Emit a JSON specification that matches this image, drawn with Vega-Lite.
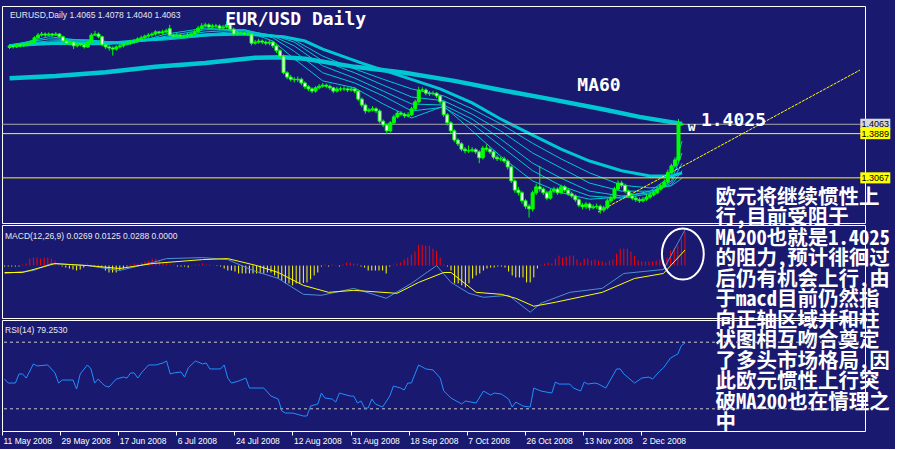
{
"$schema":"https://vega.github.io/schema/vega-lite/v6.json",
"background":"#191970",
"padding":{"left":0,"top":5,"right":4,"bottom":4},
"bounds":"flush",
"spacing":2,
"config":{"view":{"stroke":"#ffffff","strokeWidth":1}},
"resolve":{"scale":{"x":"independent","y":"independent","color":"independent","fill":"independent"}},
"datasets":{
"candles":[
{"i":0,"o":1.549,"h":1.555,"l":1.546,"c":1.552},{"i":1,"o":1.552,"h":1.554,"l":1.547,"c":1.55},{"i":2,"o":1.55,"h":1.557,"l":1.548,"c":1.554},{"i":3,"o":1.554,"h":1.556,"l":1.549,"c":1.552},{"i":4,"o":1.552,"h":1.558,"l":1.55,"c":1.554},{"i":5,"o":1.554,"h":1.56,"l":1.551,"c":1.557},{"i":6,"o":1.557,"h":1.563,"l":1.555,"c":1.559},{"i":7,"o":1.559,"h":1.57,"l":1.557,"c":1.567},{"i":8,"o":1.567,"h":1.576,"l":1.565,"c":1.572},{"i":9,"o":1.572,"h":1.578,"l":1.569,"c":1.574},
{"i":10,"o":1.574,"h":1.577,"l":1.568,"c":1.572},{"i":11,"o":1.572,"h":1.577,"l":1.57,"c":1.574},{"i":12,"o":1.574,"h":1.576,"l":1.569,"c":1.572},{"i":13,"o":1.572,"h":1.578,"l":1.57,"c":1.574},{"i":14,"o":1.574,"h":1.576,"l":1.566,"c":1.569},{"i":15,"o":1.569,"h":1.571,"l":1.558,"c":1.561},{"i":16,"o":1.561,"h":1.564,"l":1.554,"c":1.557},{"i":17,"o":1.557,"h":1.562,"l":1.553,"c":1.559},{"i":18,"o":1.559,"h":1.561,"l":1.546,"c":1.552},{"i":19,"o":1.552,"h":1.559,"l":1.549,"c":1.556},
{"i":20,"o":1.556,"h":1.558,"l":1.551,"c":1.554},{"i":21,"o":1.554,"h":1.557,"l":1.547,"c":1.55},{"i":22,"o":1.55,"h":1.562,"l":1.548,"c":1.559},{"i":23,"o":1.559,"h":1.576,"l":1.557,"c":1.572},{"i":24,"o":1.572,"h":1.58,"l":1.57,"c":1.574},{"i":25,"o":1.574,"h":1.577,"l":1.566,"c":1.569},{"i":26,"o":1.569,"h":1.571,"l":1.551,"c":1.554},{"i":27,"o":1.554,"h":1.557,"l":1.546,"c":1.55},{"i":28,"o":1.55,"h":1.553,"l":1.543,"c":1.548},{"i":29,"o":1.548,"h":1.551,"l":1.534,"c":1.546},
{"i":30,"o":1.546,"h":1.553,"l":1.543,"c":1.55},{"i":31,"o":1.55,"h":1.556,"l":1.547,"c":1.552},{"i":32,"o":1.552,"h":1.559,"l":1.549,"c":1.556},{"i":33,"o":1.556,"h":1.561,"l":1.553,"c":1.557},{"i":34,"o":1.557,"h":1.563,"l":1.554,"c":1.559},{"i":35,"o":1.559,"h":1.565,"l":1.556,"c":1.561},{"i":36,"o":1.561,"h":1.568,"l":1.558,"c":1.565},{"i":37,"o":1.565,"h":1.571,"l":1.562,"c":1.567},{"i":38,"o":1.567,"h":1.573,"l":1.564,"c":1.57},{"i":39,"o":1.57,"h":1.576,"l":1.567,"c":1.572},
{"i":40,"o":1.572,"h":1.577,"l":1.569,"c":1.574},{"i":41,"o":1.574,"h":1.581,"l":1.571,"c":1.578},{"i":42,"o":1.578,"h":1.58,"l":1.573,"c":1.576},{"i":43,"o":1.576,"h":1.582,"l":1.573,"c":1.578},{"i":44,"o":1.578,"h":1.584,"l":1.575,"c":1.58},{"i":45,"o":1.584,"h":1.591,"l":1.569,"c":1.572},{"i":46,"o":1.572,"h":1.575,"l":1.566,"c":1.57},{"i":47,"o":1.57,"h":1.576,"l":1.567,"c":1.572},{"i":48,"o":1.572,"h":1.574,"l":1.566,"c":1.57},{"i":49,"o":1.57,"h":1.573,"l":1.566,"c":1.57},
{"i":50,"o":1.57,"h":1.576,"l":1.567,"c":1.572},{"i":51,"o":1.572,"h":1.578,"l":1.569,"c":1.574},{"i":52,"o":1.574,"h":1.582,"l":1.571,"c":1.578},{"i":53,"o":1.578,"h":1.589,"l":1.575,"c":1.585},{"i":54,"o":1.585,"h":1.594,"l":1.582,"c":1.589},{"i":55,"o":1.589,"h":1.595,"l":1.586,"c":1.591},{"i":56,"o":1.591,"h":1.594,"l":1.583,"c":1.587},{"i":57,"o":1.587,"h":1.593,"l":1.584,"c":1.589},{"i":58,"o":1.589,"h":1.593,"l":1.585,"c":1.589},{"i":59,"o":1.589,"h":1.592,"l":1.581,"c":1.585},
{"i":60,"o":1.585,"h":1.591,"l":1.582,"c":1.587},{"i":61,"o":1.587,"h":1.598,"l":1.584,"c":1.591},{"i":62,"o":1.591,"h":1.594,"l":1.579,"c":1.583},{"i":63,"o":1.583,"h":1.586,"l":1.57,"c":1.574},{"i":64,"o":1.574,"h":1.58,"l":1.571,"c":1.576},{"i":65,"o":1.576,"h":1.579,"l":1.572,"c":1.576},{"i":66,"o":1.576,"h":1.578,"l":1.571,"c":1.574},{"i":67,"o":1.574,"h":1.578,"l":1.57,"c":1.574},{"i":68,"o":1.574,"h":1.577,"l":1.553,"c":1.557},{"i":69,"o":1.557,"h":1.563,"l":1.554,"c":1.559},
{"i":70,"o":1.559,"h":1.565,"l":1.556,"c":1.561},{"i":71,"o":1.561,"h":1.564,"l":1.555,"c":1.559},{"i":72,"o":1.559,"h":1.562,"l":1.553,"c":1.557},{"i":73,"o":1.557,"h":1.563,"l":1.553,"c":1.559},{"i":74,"o":1.559,"h":1.561,"l":1.548,"c":1.552},{"i":75,"o":1.552,"h":1.555,"l":1.539,"c":1.543},{"i":76,"o":1.543,"h":1.546,"l":1.529,"c":1.533},{"i":77,"o":1.533,"h":1.536,"l":1.499,"c":1.502},{"i":78,"o":1.502,"h":1.505,"l":1.49,"c":1.494},{"i":79,"o":1.494,"h":1.498,"l":1.486,"c":1.49},
{"i":80,"o":1.49,"h":1.494,"l":1.484,"c":1.489},{"i":81,"o":1.489,"h":1.495,"l":1.485,"c":1.49},{"i":82,"o":1.49,"h":1.493,"l":1.479,"c":1.483},{"i":83,"o":1.483,"h":1.486,"l":1.472,"c":1.476},{"i":84,"o":1.476,"h":1.479,"l":1.468,"c":1.472},{"i":85,"o":1.472,"h":1.475,"l":1.464,"c":1.468},{"i":86,"o":1.468,"h":1.477,"l":1.465,"c":1.474},{"i":87,"o":1.474,"h":1.481,"l":1.471,"c":1.477},{"i":88,"o":1.477,"h":1.483,"l":1.474,"c":1.479},{"i":89,"o":1.479,"h":1.482,"l":1.473,"c":1.477},
{"i":90,"o":1.477,"h":1.48,"l":1.47,"c":1.474},{"i":91,"o":1.474,"h":1.476,"l":1.464,"c":1.468},{"i":92,"o":1.468,"h":1.476,"l":1.465,"c":1.472},{"i":93,"o":1.472,"h":1.476,"l":1.468,"c":1.472},{"i":94,"o":1.472,"h":1.477,"l":1.468,"c":1.472},{"i":95,"o":1.472,"h":1.475,"l":1.466,"c":1.47},{"i":96,"o":1.47,"h":1.476,"l":1.467,"c":1.472},{"i":97,"o":1.472,"h":1.475,"l":1.464,"c":1.468},{"i":98,"o":1.468,"h":1.47,"l":1.449,"c":1.453},{"i":99,"o":1.453,"h":1.456,"l":1.438,"c":1.442},
{"i":100,"o":1.442,"h":1.445,"l":1.426,"c":1.431},{"i":101,"o":1.431,"h":1.437,"l":1.428,"c":1.433},{"i":102,"o":1.433,"h":1.44,"l":1.43,"c":1.435},{"i":103,"o":1.435,"h":1.438,"l":1.427,"c":1.431},{"i":104,"o":1.431,"h":1.434,"l":1.408,"c":1.412},{"i":105,"o":1.412,"h":1.415,"l":1.401,"c":1.405},{"i":106,"o":1.405,"h":1.408,"l":1.388,"c":1.394},{"i":107,"o":1.394,"h":1.412,"l":1.391,"c":1.409},{"i":108,"o":1.409,"h":1.424,"l":1.406,"c":1.42},{"i":109,"o":1.42,"h":1.431,"l":1.417,"c":1.427},
{"i":110,"o":1.427,"h":1.431,"l":1.421,"c":1.425},{"i":111,"o":1.425,"h":1.428,"l":1.418,"c":1.422},{"i":112,"o":1.422,"h":1.429,"l":1.419,"c":1.424},{"i":113,"o":1.424,"h":1.439,"l":1.421,"c":1.435},{"i":114,"o":1.435,"h":1.452,"l":1.432,"c":1.448},{"i":115,"o":1.448,"h":1.476,"l":1.445,"c":1.47},{"i":116,"o":1.47,"h":1.475,"l":1.466,"c":1.47},{"i":117,"o":1.47,"h":1.473,"l":1.46,"c":1.464},{"i":118,"o":1.464,"h":1.468,"l":1.459,"c":1.463},{"i":119,"o":1.463,"h":1.468,"l":1.46,"c":1.464},
{"i":120,"o":1.464,"h":1.466,"l":1.455,"c":1.459},{"i":121,"o":1.459,"h":1.461,"l":1.444,"c":1.448},{"i":122,"o":1.448,"h":1.45,"l":1.42,"c":1.424},{"i":123,"o":1.424,"h":1.427,"l":1.404,"c":1.409},{"i":124,"o":1.409,"h":1.412,"l":1.389,"c":1.394},{"i":125,"o":1.394,"h":1.397,"l":1.373,"c":1.377},{"i":126,"o":1.377,"h":1.38,"l":1.366,"c":1.37},{"i":127,"o":1.37,"h":1.373,"l":1.356,"c":1.36},{"i":128,"o":1.36,"h":1.364,"l":1.352,"c":1.357},{"i":129,"o":1.357,"h":1.367,"l":1.353,"c":1.357},
{"i":130,"o":1.357,"h":1.364,"l":1.354,"c":1.359},{"i":131,"o":1.359,"h":1.362,"l":1.351,"c":1.355},{"i":132,"o":1.355,"h":1.358,"l":1.334,"c":1.344},{"i":133,"o":1.344,"h":1.366,"l":1.341,"c":1.362},{"i":134,"o":1.362,"h":1.369,"l":1.356,"c":1.36},{"i":135,"o":1.36,"h":1.364,"l":1.351,"c":1.355},{"i":136,"o":1.355,"h":1.358,"l":1.341,"c":1.345},{"i":137,"o":1.345,"h":1.349,"l":1.338,"c":1.342},{"i":138,"o":1.342,"h":1.346,"l":1.338,"c":1.342},{"i":139,"o":1.342,"h":1.346,"l":1.334,"c":1.338},
{"i":140,"o":1.338,"h":1.341,"l":1.322,"c":1.327},{"i":141,"o":1.327,"h":1.33,"l":1.297,"c":1.301},{"i":142,"o":1.301,"h":1.304,"l":1.279,"c":1.284},{"i":143,"o":1.284,"h":1.29,"l":1.274,"c":1.279},{"i":144,"o":1.279,"h":1.282,"l":1.259,"c":1.264},{"i":145,"o":1.264,"h":1.267,"l":1.249,"c":1.254},{"i":146,"o":1.254,"h":1.258,"l":1.233,"c":1.249},{"i":147,"o":1.249,"h":1.283,"l":1.244,"c":1.279},{"i":148,"o":1.279,"h":1.295,"l":1.275,"c":1.29},{"i":149,"o":1.29,"h":1.329,"l":1.281,"c":1.286},
{"i":150,"o":1.286,"h":1.289,"l":1.275,"c":1.279},{"i":151,"o":1.279,"h":1.283,"l":1.265,"c":1.269},{"i":152,"o":1.269,"h":1.286,"l":1.266,"c":1.282},{"i":153,"o":1.282,"h":1.29,"l":1.278,"c":1.286},{"i":154,"o":1.286,"h":1.289,"l":1.275,"c":1.279},{"i":155,"o":1.279,"h":1.294,"l":1.276,"c":1.29},{"i":156,"o":1.29,"h":1.293,"l":1.28,"c":1.284},{"i":157,"o":1.284,"h":1.288,"l":1.273,"c":1.277},{"i":158,"o":1.277,"h":1.281,"l":1.269,"c":1.273},{"i":159,"o":1.273,"h":1.276,"l":1.262,"c":1.266},
{"i":160,"o":1.266,"h":1.269,"l":1.252,"c":1.256},{"i":161,"o":1.256,"h":1.26,"l":1.248,"c":1.253},{"i":162,"o":1.253,"h":1.262,"l":1.249,"c":1.258},{"i":163,"o":1.258,"h":1.261,"l":1.246,"c":1.251},{"i":164,"o":1.251,"h":1.257,"l":1.248,"c":1.253},{"i":165,"o":1.253,"h":1.259,"l":1.249,"c":1.254},{"i":166,"o":1.254,"h":1.257,"l":1.24,"c":1.247},{"i":167,"o":1.247,"h":1.255,"l":1.243,"c":1.251},{"i":168,"o":1.251,"h":1.268,"l":1.248,"c":1.264},{"i":169,"o":1.264,"h":1.274,"l":1.26,"c":1.269},
{"i":170,"o":1.269,"h":1.29,"l":1.266,"c":1.286},{"i":171,"o":1.286,"h":1.302,"l":1.283,"c":1.297},{"i":172,"o":1.297,"h":1.301,"l":1.289,"c":1.293},{"i":173,"o":1.293,"h":1.296,"l":1.278,"c":1.282},{"i":174,"o":1.282,"h":1.285,"l":1.269,"c":1.273},{"i":175,"o":1.273,"h":1.277,"l":1.265,"c":1.269},{"i":176,"o":1.269,"h":1.273,"l":1.262,"c":1.266},{"i":177,"o":1.266,"h":1.27,"l":1.26,"c":1.264},{"i":178,"o":1.264,"h":1.271,"l":1.261,"c":1.267},{"i":179,"o":1.267,"h":1.276,"l":1.264,"c":1.271},
{"i":180,"o":1.271,"h":1.279,"l":1.268,"c":1.275},{"i":181,"o":1.275,"h":1.283,"l":1.272,"c":1.279},{"i":182,"o":1.279,"h":1.29,"l":1.276,"c":1.286},{"i":183,"o":1.286,"h":1.296,"l":1.283,"c":1.292},{"i":184,"o":1.292,"h":1.304,"l":1.289,"c":1.299},{"i":185,"o":1.299,"h":1.322,"l":1.296,"c":1.317},{"i":186,"o":1.317,"h":1.333,"l":1.314,"c":1.329},{"i":187,"o":1.329,"h":1.345,"l":1.326,"c":1.34},{"i":188,"o":1.34,"h":1.416,"l":1.337,"c":1.4065},{"i":189,"o":1.4065,"h":1.4078,"l":1.404,"c":1.4063}
],
"ma":[
{"line":"MA200","i":0,"p":1.492},{"line":"MA200","i":13,"p":1.496},{"line":"MA200","i":27,"p":1.503},{"line":"MA200","i":41,"p":1.513},{"line":"MA200","i":55,"p":1.52},{"line":"MA200","i":69,"p":1.53},{"line":"MA200","i":77,"p":1.531},{"line":"MA200","i":83,"p":1.528},{"line":"MA200","i":97,"p":1.513},{"line":"MA200","i":111,"p":1.502},{"line":"MA200","i":125,"p":1.487},{"line":"MA200","i":138,"p":1.47},{"line":"MA200","i":152,"p":1.453},{"line":"MA200","i":166,"p":1.435},{"line":"MA200","i":177,"p":1.42},{"line":"MA200","i":189,"p":1.407},
{"line":"MA60","i":0,"p":1.552},{"line":"MA60","i":13,"p":1.557},{"line":"MA60","i":27,"p":1.556},{"line":"MA60","i":41,"p":1.565},{"line":"MA60","i":55,"p":1.572},{"line":"MA60","i":66,"p":1.574},{"line":"MA60","i":77,"p":1.569},{"line":"MA60","i":83,"p":1.561},{"line":"MA60","i":88,"p":1.546},{"line":"MA60","i":99,"p":1.52},{"line":"MA60","i":111,"p":1.494},{"line":"MA60","i":121,"p":1.472},{"line":"MA60","i":130,"p":1.446},{"line":"MA60","i":138,"p":1.416},{"line":"MA60","i":147,"p":1.386},{"line":"MA60","i":155,"p":1.36},{"line":"MA60","i":163,"p":1.338},{"line":"MA60","i":172,"p":1.32},{"line":"MA60","i":180,"p":1.31},{"line":"MA60","i":186,"p":1.31},{"line":"MA60","i":189,"p":1.316},
{"line":"T1","i":0,"p":1.552},{"line":"T1","i":11,"p":1.569},{"line":"T1","i":22,"p":1.561},{"line":"T1","i":33,"p":1.554},{"line":"T1","i":44,"p":1.574},{"line":"T1","i":55,"p":1.585},{"line":"T1","i":66,"p":1.58},{"line":"T1","i":74,"p":1.561},{"line":"T1","i":80,"p":1.528},{"line":"T1","i":88,"p":1.487},{"line":"T1","i":97,"p":1.474},{"line":"T1","i":105,"p":1.444},{"line":"T1","i":113,"p":1.418},{"line":"T1","i":122,"p":1.44},{"line":"T1","i":130,"p":1.394},{"line":"T1","i":138,"p":1.347},{"line":"T1","i":147,"p":1.301},{"line":"T1","i":155,"p":1.279},{"line":"T1","i":163,"p":1.267},{"line":"T1","i":172,"p":1.271},{"line":"T1","i":180,"p":1.282},{"line":"T1","i":186,"p":1.31},{"line":"T1","i":189,"p":1.375},
{"line":"T2","i":0,"p":1.554},{"line":"T2","i":11,"p":1.565},{"line":"T2","i":22,"p":1.563},{"line":"T2","i":33,"p":1.556},{"line":"T2","i":44,"p":1.57},{"line":"T2","i":55,"p":1.582},{"line":"T2","i":66,"p":1.582},{"line":"T2","i":74,"p":1.567},{"line":"T2","i":80,"p":1.542},{"line":"T2","i":88,"p":1.502},{"line":"T2","i":97,"p":1.483},{"line":"T2","i":105,"p":1.459},{"line":"T2","i":113,"p":1.431},{"line":"T2","i":122,"p":1.438},{"line":"T2","i":130,"p":1.407},{"line":"T2","i":138,"p":1.366},{"line":"T2","i":147,"p":1.32},{"line":"T2","i":155,"p":1.292},{"line":"T2","i":163,"p":1.273},{"line":"T2","i":172,"p":1.269},{"line":"T2","i":180,"p":1.277},{"line":"T2","i":186,"p":1.301},{"line":"T2","i":189,"p":1.353},
{"line":"T3","i":0,"p":1.554},{"line":"T3","i":11,"p":1.561},{"line":"T3","i":22,"p":1.563},{"line":"T3","i":33,"p":1.557},{"line":"T3","i":44,"p":1.567},{"line":"T3","i":55,"p":1.578},{"line":"T3","i":66,"p":1.582},{"line":"T3","i":74,"p":1.57},{"line":"T3","i":80,"p":1.552},{"line":"T3","i":88,"p":1.515},{"line":"T3","i":97,"p":1.492},{"line":"T3","i":105,"p":1.468},{"line":"T3","i":113,"p":1.444},{"line":"T3","i":122,"p":1.442},{"line":"T3","i":130,"p":1.416},{"line":"T3","i":138,"p":1.379},{"line":"T3","i":147,"p":1.334},{"line":"T3","i":155,"p":1.306},{"line":"T3","i":163,"p":1.282},{"line":"T3","i":172,"p":1.273},{"line":"T3","i":180,"p":1.279},{"line":"T3","i":186,"p":1.297},{"line":"T3","i":189,"p":1.334},
{"line":"T4","i":0,"p":1.554},{"line":"T4","i":11,"p":1.559},{"line":"T4","i":22,"p":1.561},{"line":"T4","i":33,"p":1.559},{"line":"T4","i":44,"p":1.565},{"line":"T4","i":55,"p":1.574},{"line":"T4","i":66,"p":1.58},{"line":"T4","i":74,"p":1.572},{"line":"T4","i":80,"p":1.559},{"line":"T4","i":88,"p":1.524},{"line":"T4","i":97,"p":1.502},{"line":"T4","i":105,"p":1.479},{"line":"T4","i":113,"p":1.457},{"line":"T4","i":122,"p":1.45},{"line":"T4","i":130,"p":1.425},{"line":"T4","i":138,"p":1.394},{"line":"T4","i":147,"p":1.353},{"line":"T4","i":155,"p":1.325},{"line":"T4","i":163,"p":1.297},{"line":"T4","i":172,"p":1.282},{"line":"T4","i":180,"p":1.282},{"line":"T4","i":186,"p":1.293},{"line":"T4","i":189,"p":1.32},
{"line":"T5","i":0,"p":1.554},{"line":"T5","i":11,"p":1.557},{"line":"T5","i":22,"p":1.559},{"line":"T5","i":33,"p":1.559},{"line":"T5","i":44,"p":1.563},{"line":"T5","i":55,"p":1.57},{"line":"T5","i":66,"p":1.578},{"line":"T5","i":74,"p":1.572},{"line":"T5","i":80,"p":1.563},{"line":"T5","i":88,"p":1.533},{"line":"T5","i":97,"p":1.509},{"line":"T5","i":105,"p":1.49},{"line":"T5","i":113,"p":1.472},{"line":"T5","i":122,"p":1.459},{"line":"T5","i":130,"p":1.435},{"line":"T5","i":138,"p":1.407},{"line":"T5","i":147,"p":1.371},{"line":"T5","i":155,"p":1.342},{"line":"T5","i":163,"p":1.316},{"line":"T5","i":172,"p":1.293},{"line":"T5","i":180,"p":1.288},{"line":"T5","i":186,"p":1.292},{"line":"T5","i":189,"p":1.306}
],
"levels":[{"p":1.4063,"kind":"bid"},{"p":1.3889,"kind":"level"},{"p":1.3067,"kind":"level"}],
"trend":[{"i":165.4,"p":1.2432},{"i":239,"p":1.5071}],
"hist":[
{"i":0,"h":-0.0008},{"i":1,"h":-0.0008},{"i":2,"h":-0.0008},{"i":3,"h":-0.0008},{"i":4,"h":-0.0008},{"i":5,"h":0.0008},{"i":6,"h":0.0016},{"i":7,"h":0.0056},{"i":8,"h":0.0064},{"i":9,"h":0.0064},{"i":10,"h":0.0056},{"i":11,"h":0.0064},{"i":12,"h":0.0064},{"i":13,"h":0.0056},{"i":14,"h":0.004},{"i":15,"h":0.0008},{"i":16,"h":-0.0008},{"i":17,"h":-0.0016},{"i":18,"h":-0.0024},{"i":19,"h":-0.0032},
{"i":20,"h":-0.004},{"i":21,"h":-0.0032},{"i":22,"h":-0.0016},{"i":23,"h":0.0016},{"i":24,"h":0.0008},{"i":25,"h":-0.0008},{"i":26,"h":-0.0008},{"i":27,"h":-0.0016},{"i":28,"h":-0.004},{"i":29,"h":-0.0056},{"i":30,"h":-0.0056},{"i":31,"h":-0.0056},{"i":32,"h":-0.004},{"i":33,"h":-0.0024},{"i":34,"h":-0.0008},{"i":35,"h":0.0008},{"i":36,"h":0.0016},{"i":37,"h":0.0016},{"i":38,"h":0.0024},{"i":39,"h":0.0032},
{"i":40,"h":0.004},{"i":41,"h":0.0056},{"i":42,"h":0.0056},{"i":43,"h":0.004},{"i":44,"h":0.0024},{"i":45,"h":0.0016},{"i":46,"h":0.0008},{"i":47,"h":0.0008},{"i":48,"h":-0.0008},{"i":49,"h":-0.0008},{"i":50,"h":-0.0008},{"i":51,"h":-0.0016},{"i":52,"h":0.0004},{"i":53,"h":0.0008},{"i":54,"h":0.0008},{"i":55,"h":0.0016},{"i":56,"h":0.0008},{"i":57,"h":0.0008},{"i":58,"h":0.0004},{"i":59,"h":-0.0004},
{"i":60,"h":-0.0008},{"i":61,"h":-0.0024},{"i":62,"h":-0.004},{"i":63,"h":-0.004},{"i":64,"h":-0.0048},{"i":65,"h":-0.0064},{"i":66,"h":-0.0064},{"i":67,"h":-0.0064},{"i":68,"h":-0.0064},{"i":69,"h":-0.0064},{"i":70,"h":-0.0064},{"i":71,"h":-0.0064},{"i":72,"h":-0.0064},{"i":73,"h":-0.0056},{"i":74,"h":-0.0056},{"i":75,"h":-0.008},{"i":76,"h":-0.0104},{"i":77,"h":-0.012},{"i":78,"h":-0.0144},{"i":79,"h":-0.0144},
{"i":80,"h":-0.016},{"i":81,"h":-0.0144},{"i":82,"h":-0.0144},{"i":83,"h":-0.014},{"i":84,"h":-0.0136},{"i":85,"h":-0.0112},{"i":86,"h":-0.008},{"i":87,"h":-0.0056},{"i":88,"h":-0.0008},{"i":89,"h":0.0008},{"i":90,"h":-0.0008},{"i":91,"h":0.0008},{"i":92,"h":0.0004},{"i":93,"h":-0.0008},{"i":94,"h":0.0008},{"i":95,"h":0.0024},{"i":96,"h":0.0024},{"i":97,"h":0.0016},{"i":98,"h":0.0016},{"i":99,"h":-0.0008},
{"i":100,"h":-0.0016},{"i":101,"h":-0.004},{"i":102,"h":-0.004},{"i":103,"h":-0.004},{"i":104,"h":-0.004},{"i":105,"h":-0.004},{"i":106,"h":-0.0064},{"i":107,"h":-0.0008},{"i":108,"h":0.0008},{"i":109,"h":0.0016},{"i":110,"h":0.0024},{"i":111,"h":0.0048},{"i":112,"h":0.0064},{"i":113,"h":0.0088},{"i":114,"h":0.0112},{"i":115,"h":0.0168},{"i":116,"h":0.0168},{"i":117,"h":0.016},{"i":118,"h":0.016},{"i":119,"h":0.0136},
{"i":120,"h":0.012},{"i":121,"h":0.0064},{"i":122,"h":0.0008},{"i":123,"h":-0.0008},{"i":124,"h":-0.004},{"i":125,"h":-0.0144},{"i":126,"h":-0.0144},{"i":127,"h":-0.016},{"i":128,"h":-0.0176},{"i":129,"h":-0.0144},{"i":130,"h":-0.0104},{"i":131,"h":-0.008},{"i":132,"h":-0.0064},{"i":133,"h":-0.004},{"i":134,"h":-0.0024},{"i":135,"h":-0.0016},{"i":136,"h":-0.0016},{"i":137,"h":-0.0008},{"i":138,"h":-0.0008},{"i":139,"h":-0.0016},
{"i":140,"h":-0.0048},{"i":141,"h":-0.008},{"i":142,"h":-0.0096},{"i":143,"h":-0.0096},{"i":144,"h":-0.0096},{"i":145,"h":-0.0136},{"i":146,"h":-0.0136},{"i":147,"h":-0.0096},{"i":148,"h":-0.0024},{"i":149,"h":0.0008},{"i":150,"h":0.0016},{"i":151,"h":0.0024},{"i":152,"h":0.0016},{"i":153,"h":0.0056},{"i":154,"h":0.008},{"i":155,"h":0.0064},{"i":156,"h":0.0072},{"i":157,"h":0.008},{"i":158,"h":0.008},{"i":159,"h":0.0048},
{"i":160,"h":0.0024},{"i":161,"h":0.0056},{"i":162,"h":0.0056},{"i":163,"h":0.004},{"i":164,"h":0.0048},{"i":165,"h":0.004},{"i":166,"h":0.0032},{"i":167,"h":0.0024},{"i":168,"h":0.004},{"i":169,"h":0.0048},{"i":170,"h":0.0096},{"i":171,"h":0.0136},{"i":172,"h":0.0136},{"i":173,"h":0.0136},{"i":174,"h":0.0112},{"i":175,"h":0.008},{"i":176,"h":0.004},{"i":177,"h":0.0032},{"i":178,"h":0.0032},{"i":179,"h":0.0032},
{"i":180,"h":0.0032},{"i":181,"h":0.004},{"i":182,"h":0.0048},{"i":183,"h":0.0048},{"i":184,"h":0.0064},{"i":185,"h":0.012},{"i":186,"h":0.0144},{"i":187,"h":0.016},{"i":188,"h":0.0216},{"i":189,"h":0.0269}
],
"macd":[
{"s":"MACD","i":0,"v":-0.0064},{"s":"MACD","i":8,"v":-0.004},{"s":"MACD","i":13,"v":0.0016},{"s":"MACD","i":23,"v":0},{"s":"MACD","i":32,"v":-0.004},{"s":"MACD","i":41,"v":0.0024},{"s":"MACD","i":45,"v":0.0056},{"s":"MACD","i":55,"v":0.0064},{"s":"MACD","i":62,"v":0.0048},{"s":"MACD","i":69,"v":-0.004},{"s":"MACD","i":76,"v":-0.0104},{"s":"MACD","i":83,"v":-0.0232},{"s":"MACD","i":88,"v":-0.024},{"s":"MACD","i":97,"v":-0.0184},{"s":"MACD","i":106,"v":-0.0264},{"s":"MACD","i":113,"v":-0.0144},{"s":"MACD","i":120,"v":0},{"s":"MACD","i":124,"v":-0.0136},{"s":"MACD","i":129,"v":-0.0224},{"s":"MACD","i":133,"v":-0.0256},{"s":"MACD","i":140,"v":-0.024},{"s":"MACD","i":146,"v":-0.0376},{"s":"MACD","i":149,"v":-0.0304},{"s":"MACD","i":157,"v":-0.0216},{"s":"MACD","i":166,"v":-0.0184},{"s":"MACD","i":172,"v":-0.0064},{"s":"MACD","i":183,"v":-0.0032},{"s":"MACD","i":189,"v":0.0288},
{"s":"Signal","i":0,"v":-0.0056},{"s":"Signal","i":5,"v":-0.0056},{"s":"Signal","i":14,"v":0.0016},{"s":"Signal","i":23,"v":0},{"s":"Signal","i":32,"v":-0.0024},{"s":"Signal","i":41,"v":0.0016},{"s":"Signal","i":55,"v":0.0048},{"s":"Signal","i":62,"v":0.0056},{"s":"Signal","i":70,"v":0},{"s":"Signal","i":76,"v":-0.0056},{"s":"Signal","i":83,"v":-0.016},{"s":"Signal","i":90,"v":-0.0216},{"s":"Signal","i":97,"v":-0.02},{"s":"Signal","i":109,"v":-0.0224},{"s":"Signal","i":115,"v":-0.0136},{"s":"Signal","i":122,"v":-0.0056},{"s":"Signal","i":124,"v":-0.0056},{"s":"Signal","i":131,"v":-0.0216},{"s":"Signal","i":138,"v":-0.0232},{"s":"Signal","i":142,"v":-0.0264},{"s":"Signal","i":147,"v":-0.0328},{"s":"Signal","i":153,"v":-0.0296},{"s":"Signal","i":166,"v":-0.0216},{"s":"Signal","i":175,"v":-0.0104},{"s":"Signal","i":183,"v":-0.0064},{"s":"Signal","i":189,"v":0.0125}
],
"rsi":[
{"i":0,"v":46.8},{"i":1,"v":43.2},{"i":3,"v":43.2},{"i":4,"v":51.4},{"i":5,"v":51.4},{"i":6,"v":47.7},{"i":8,"v":60.4},{"i":9,"v":58.6},{"i":12,"v":59.5},{"i":14,"v":52.3},{"i":15,"v":43.2},{"i":16,"v":45.9},{"i":19,"v":45.9},{"i":20,"v":37.8},{"i":21,"v":51.4},{"i":23,"v":59.5},{"i":24,"v":55.9},{"i":25,"v":43.2},{"i":26,"v":46.8},{"i":27,"v":43.2},{"i":28,"v":40.5},{"i":29,"v":39.6},{"i":31,"v":46.8},{"i":33,"v":48.6},{"i":34,"v":47.7},{"i":35,"v":52.3},{"i":36,"v":52.3},{"i":37,"v":47.7},{"i":38,"v":52.3},{"i":40,"v":59.5},{"i":42,"v":59.5},{"i":44,"v":61.3},{"i":45,"v":63.1},{"i":46,"v":51.4},{"i":47,"v":52.3},{"i":49,"v":53.2},{"i":50,"v":48.6},{"i":51,"v":56.8},{"i":53,"v":63.1},{"i":55,"v":60.4},{"i":56,"v":61.3},{"i":57,"v":55.9},{"i":60,"v":55.9},{"i":61,"v":59.5},{"i":62,"v":47.7},{"i":63,"v":43.2},{"i":65,"v":45},{"i":67,"v":47.7},{"i":68,"v":38.7},{"i":72,"v":38.7},{"i":74,"v":31.5},{"i":76,"v":28.8},{"i":77,"v":18},{"i":78,"v":16.2},{"i":80,"v":16.2},{"i":83,"v":13.5},{"i":84,"v":13.5},{"i":85,"v":22.5},{"i":87,"v":24.3},{"i":88,"v":34.2},{"i":89,"v":29.7},{"i":91,"v":28.8},{"i":92,"v":26.1},{"i":93,"v":34.2},{"i":96,"v":31.5},{"i":97,"v":31.5},{"i":98,"v":25.2},{"i":99,"v":27},{"i":100,"v":20.7},{"i":101,"v":20.7},{"i":102,"v":28.8},{"i":103,"v":24.3},{"i":105,"v":21.6},{"i":107,"v":31.5},{"i":108,"v":40.5},{"i":110,"v":38.7},{"i":111,"v":36.9},{"i":112,"v":43.2},{"i":113,"v":43.2},{"i":114,"v":51.4},{"i":115,"v":59.5},{"i":117,"v":55.9},{"i":119,"v":55},{"i":121,"v":47.7},{"i":122,"v":36},{"i":124,"v":29.7},{"i":127,"v":24.3},{"i":128,"v":27},{"i":131,"v":25.2},{"i":133,"v":36},{"i":135,"v":32.4},{"i":136,"v":34.2},{"i":138,"v":33.3},{"i":140,"v":28.8},{"i":141,"v":21.6},{"i":142,"v":26.1},{"i":144,"v":22.5},{"i":146,"v":21.6},{"i":147,"v":38.7},{"i":149,"v":36},{"i":152,"v":34.2},{"i":153,"v":44.1},{"i":154,"v":42.3},{"i":157,"v":42.3},{"i":158,"v":38.7},{"i":160,"v":36},{"i":161,"v":44.1},{"i":162,"v":42.3},{"i":164,"v":43.2},{"i":165,"v":42.3},{"i":167,"v":38.7},{"i":170,"v":55.9},{"i":171,"v":55.9},{"i":172,"v":51.4},{"i":175,"v":43.2},{"i":177,"v":47.7},{"i":179,"v":48.6},{"i":180,"v":46.8},{"i":182,"v":54.1},{"i":183,"v":56.8},{"i":185,"v":65.8},{"i":187,"v":69.4},{"i":188,"v":77},{"i":189,"v":79.253}
],
"rsilevels":[{"lv":80},{"lv":20}]
},
"vconcat":[
{
"width":863,"height":217,
"layer":[
{"data":{"name":"ma"},"transform":[{"filter":{"field":"line","oneOf":["T1","T2","T3","T4","T5"]}}],
 "mark":{"type":"line","color":"#00c8d2","strokeWidth":1},
 "encoding":{"x":{"field":"i","type":"quantitative","scale":{"domain":[-0.72,239],"nice":false,"zero":false},"axis":null},
 "y":{"field":"p","type":"quantitative","scale":{"domain":[1.2228,1.6261],"nice":false,"zero":false},
  "axis":{"orient":"right","values":[1.5815,1.5215,1.463,1.3445,1.2845,1.226],"format":".4f","title":null,"domain":false,"grid":false,"ticks":true,"tickSize":3,"tickColor":"#ffffff","labelColor":"#ffffff","labelFont":"Liberation Sans","labelFontSize":9,"labelPadding":2,"labelFlush":false}},
 "detail":{"field":"line"}}},
{"data":{"name":"ma"},"transform":[{"filter":{"field":"line","equal":"MA60"}}],
 "mark":{"type":"line","color":"#00c8d2","strokeWidth":3},
 "encoding":{"x":{"field":"i","type":"quantitative","axis":null},"y":{"field":"p","type":"quantitative","axis":null}}},
{"data":{"name":"ma"},"transform":[{"filter":{"field":"line","equal":"MA200"}}],
 "mark":{"type":"line","color":"#00c8d2","strokeWidth":4.5},
 "encoding":{"x":{"field":"i","type":"quantitative","axis":null},"y":{"field":"p","type":"quantitative","axis":null}}},
{"data":{"name":"levels"},"mark":{"type":"rule","strokeWidth":1},
 "encoding":{"y":{"field":"p","type":"quantitative","axis":null},
 "color":{"field":"kind","type":"nominal","scale":{"domain":["bid","level"],"range":["#a8a8a8","#ffff00"]},"legend":null}}},
{"data":{"name":"trend"},"mark":{"type":"line","color":"#ffff00","strokeWidth":1,"strokeDash":[3,1]},
 "encoding":{"x":{"field":"i","type":"quantitative","axis":null},"y":{"field":"p","type":"quantitative","axis":null}}},
{"data":{"name":"candles"},"mark":{"type":"rule","color":"#00ff00","strokeWidth":1},
 "encoding":{"x":{"field":"i","type":"quantitative","axis":null},"y":{"field":"l","type":"quantitative","axis":null},"y2":{"field":"h"}}},
{"data":{"name":"candles"},"mark":{"type":"bar","width":3,"stroke":"#00ff00","strokeWidth":1},
 "encoding":{"x":{"field":"i","type":"quantitative","axis":null},"y":{"field":"o","type":"quantitative","axis":null},"y2":{"field":"c"},
 "fill":{"condition":{"test":"datum.c >= datum.o","value":"#00ff00"},"value":"#ffffff"}}},
{"data":{"name":"levels"},"mark":{"type":"point","shape":"M -1 -0.37 H 1 V 0.37 H -1 Z","size":900,"filled":true,"opacity":1,"strokeWidth":0},
 "encoding":{"x":{"datum":243.3,"type":"quantitative"},"y":{"field":"p","type":"quantitative","axis":null},
 "fill":{"field":"kind","type":"nominal","scale":{"domain":["bid","level"],"range":["#d8d8d8","#ffff00"]},"legend":null}}},
{"data":{"name":"levels"},"mark":{"type":"text","font":"Liberation Sans","fontSize":9,"color":"#000000","align":"center","baseline":"middle"},
 "encoding":{"x":{"datum":243.3,"type":"quantitative"},"y":{"field":"p","type":"quantitative","axis":null},"text":{"field":"p","type":"quantitative","format":".4f"}}},
{"data":{"values":[{}]},"mark":{"type":"text","font":"Liberation Sans","fontSize":8.5,"color":"#e8e8e8","align":"left","baseline":"alphabetic","text":"EURUSD,Daily  1.4065 1.4078 1.4040 1.4063"},
 "encoding":{"x":{"datum":0.11,"type":"quantitative"},"y":{"datum":1.6038,"type":"quantitative"}}},
{"data":{"values":[{}]},"mark":{"type":"text","font":"DejaVu Sans Mono","fontWeight":"bold","fontSize":18,"color":"#ffffff","align":"left","baseline":"alphabetic","text":"EUR/USD Daily"},
 "encoding":{"x":{"datum":60.6,"type":"quantitative"},"y":{"datum":1.5908,"type":"quantitative"}}},
{"data":{"values":[{}]},"mark":{"type":"text","font":"DejaVu Sans Mono","fontWeight":"bold","fontSize":18,"color":"#ffffff","align":"left","baseline":"alphabetic","text":"MA60"},
 "encoding":{"x":{"datum":159.56,"type":"quantitative"},"y":{"datum":1.4681,"type":"quantitative"}}},
{"data":{"values":[{}]},"mark":{"type":"text","font":"DejaVu Sans Mono","fontWeight":"bold","fontSize":13,"color":"#ffffff","align":"left","baseline":"alphabetic","text":"w"},
 "encoding":{"x":{"datum":190.6,"type":"quantitative"},"y":{"datum":1.3938,"type":"quantitative"}}},
{"data":{"values":[{}]},"mark":{"type":"text","font":"DejaVu Sans Mono","fontWeight":"bold","fontSize":18,"color":"#ffffff","align":"left","baseline":"alphabetic","text":"1.4025"},
 "encoding":{"x":{"datum":194.3,"type":"quantitative"},"y":{"datum":1.4031,"type":"quantitative"}}},
{"data":{"values":[{}]},"mark":{"type":"text","font":"Noto Sans Mono CJK SC, Noto Sans CJK SC","fontWeight":"bold","fontSize":20.5,"lineHeight":20.45,"color":"#ffffff","align":"left","baseline":"top",
 "text":["欧元将继续惯性上","行,目前受阻于","MA200也就是1.4025","的阻力,预计徘徊过","后仍有机会上行,由","于macd目前仍然指","向正轴区域并和柱","状图相互吻合奠定","了多头市场格局,因","此欧元惯性上行突","破MA200也在情理之","中"]},
 "encoding":{"x":{"datum":198.4,"type":"quantitative"},"y":{"datum":1.2878,"type":"quantitative"}}}
]
},
{
"width":863,"height":93,
"layer":[
{"data":{"name":"hist"},"mark":{"type":"rule","strokeWidth":1},
 "encoding":{"x":{"field":"i","type":"quantitative","scale":{"domain":[-0.72,239],"nice":false,"zero":false},"axis":null},
 "y":{"field":"h","type":"quantitative","scale":{"domain":[-0.0423,0.0327],"nice":false,"zero":false},
  "axis":{"orient":"right","values":[0.0327,0,-0.0423],"labelExpr":"format(abs(datum.value), '.4f')","title":null,"domain":false,"grid":false,"ticks":true,"tickSize":3,"tickColor":"#ffffff","labelColor":"#ffffff","labelFont":"Liberation Sans","labelFontSize":9,"labelPadding":2,"labelFlush":true}},
 "y2":{"datum":0},
 "color":{"condition":{"test":"datum.h > 0","value":"#ff0000"},"value":"#ffff00"}}},
{"data":{"name":"macd"},"mark":{"type":"line","strokeWidth":1},
 "encoding":{"x":{"field":"i","type":"quantitative","axis":null},"y":{"field":"v","type":"quantitative","axis":null},
 "color":{"field":"s","type":"nominal","scale":{"domain":["MACD","Signal"],"range":["#4f8fd0","#ffff00"]},"legend":null}}},
{"data":{"values":[{}]},"mark":{"type":"point","shape":"M -0.82 0 A 0.82 1 0 1 1 0.82 0 A 0.82 1 0 1 1 -0.82 0 Z","size":2601,"filled":false,"stroke":"#ffffff","strokeWidth":2,"opacity":1},
 "encoding":{"x":{"datum":188.4,"type":"quantitative"},"y":{"datum":0.0093,"type":"quantitative"}}},
{"data":{"values":[{}]},"mark":{"type":"text","font":"Liberation Sans","fontSize":8.5,"color":"#e8e8e8","align":"left","baseline":"alphabetic","text":"MACD(12,26,9) 0.0269 0.0125 0.0288 0.0000"},
 "encoding":{"x":{"datum":0.11,"type":"quantitative"},"y":{"datum":0.0214,"type":"quantitative"}}}
]
},
{
"width":863,"height":111,
"layer":[
{"data":{"name":"rsilevels"},"mark":{"type":"rule","color":"#c8c8c8","strokeWidth":1,"strokeDash":[3,3]},
 "encoding":{"y":{"field":"lv","type":"quantitative","scale":{"domain":[0,100],"nice":false,"zero":false},
  "axis":{"orient":"right","values":[100,80,20,0],"format":"d","title":null,"domain":false,"grid":false,"ticks":true,"tickSize":3,"tickColor":"#ffffff","labelColor":"#ffffff","labelFont":"Liberation Sans","labelFontSize":9,"labelPadding":2,"labelFlush":true}}}},
{"data":{"name":"rsi"},"mark":{"type":"line","color":"#1e90ff","strokeWidth":1},
 "encoding":{"x":{"field":"i","type":"quantitative","scale":{"domain":[-0.72,239],"nice":false,"zero":false},
  "axis":{"orient":"bottom","values":[-0.72,15.42,31.56,47.69,63.83,79.97,96.11,112.25,128.39,144.53,160.67,176.81],
   "labelExpr":"datum.value < 0 ? '11 May 2008' : datum.value < 16 ? '29 May 2008' : datum.value < 32 ? '17 Jun 2008' : datum.value < 48 ? '6 Jul 2008' : datum.value < 64 ? '24 Jul 2008' : datum.value < 80 ? '12 Aug 2008' : datum.value < 97 ? '31 Aug 2008' : datum.value < 113 ? '18 Sep 2008' : datum.value < 129 ? '7 Oct 2008' : datum.value < 145 ? '26 Oct 2008' : datum.value < 161 ? '13 Nov 2008' : '2 Dec 2008'",
   "title":null,"domain":false,"grid":false,"ticks":true,"tickSize":4,"tickColor":"#ffffff","labelColor":"#ffffff","labelFont":"Liberation Sans","labelFontSize":8.5,"labelAlign":"left","labelPadding":1,"labelOffset":1,"labelFlush":false,"labelOverlap":false}},
 "y":{"field":"v","type":"quantitative","axis":null}}},
{"data":{"values":[{}]},"mark":{"type":"text","font":"Liberation Sans","fontSize":8.5,"color":"#e8e8e8","align":"left","baseline":"alphabetic","text":"RSI(14) 79.2530"},
 "encoding":{"x":{"datum":0.11,"type":"quantitative"},"y":{"datum":88.3,"type":"quantitative"}}}
]
}
]
}
